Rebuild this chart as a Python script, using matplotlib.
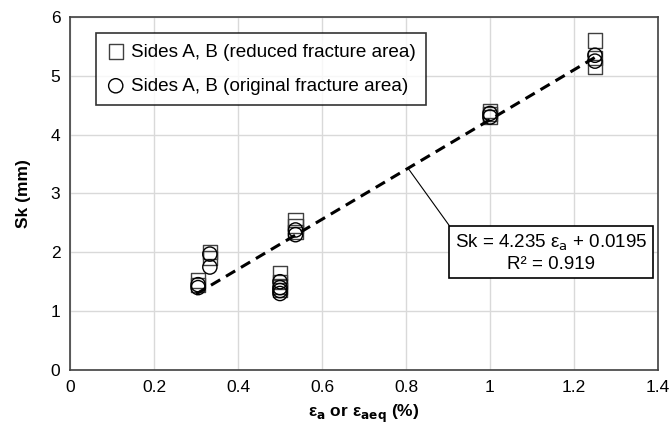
import matplotlib
matplotlib.use("Agg")
import matplotlib.pyplot as plt
import numpy as np

plt.rcParams['font.family'] = ['Liberation Sans', 'DejaVu Sans']

# Sides A, B (reduced fracture area) - squares
sq_x = [0.305, 0.305, 0.333, 0.333, 0.5, 0.5, 0.5, 0.5, 0.537, 0.537, 0.537, 1.0, 1.0, 1.0, 1.25, 1.25, 1.25]
sq_y = [1.52, 1.45, 2.0, 1.9, 1.65, 1.5, 1.42, 1.36, 2.55, 2.45, 2.35, 4.4, 4.35, 4.3, 5.6, 5.3, 5.15]
# Sides A, B (original fracture area) - circles
ci_x = [0.305, 0.305, 0.333, 0.333, 0.5, 0.5, 0.5, 0.5, 0.537, 0.537, 1.0, 1.0, 1.25, 1.25]
ci_y = [1.45, 1.4, 1.97, 1.75, 1.5, 1.4, 1.35, 1.3, 2.38, 2.3, 4.36, 4.3, 5.35, 5.25]

slope = 4.235
intercept = 0.0195
fit_x = [0.3, 1.25]

fig = plt.figure(figsize=(6.7, 4.44), dpi=100)
ax = fig.add_axes([0.1045, 0.1667, 0.8775, 0.795])

ax.set_xlim(0, 1.4)
ax.set_ylim(0, 6)
ax.set_xticks(np.arange(0, 1.41, 0.2))
ax.set_xticklabels(['0', '0.2', '0.4', '0.6', '0.8', '1', '1.2', '1.4'])
ax.set_yticks(range(0, 7))
ax.grid(True, color='#d9d9d9', linewidth=1)
ax.set_axisbelow(True)
for s in ax.spines.values():
    s.set_color('#404040')
    s.set_linewidth(1.2)
ax.tick_params(axis='both', labelsize=12.5, length=0, pad=7)

ax.scatter(sq_x, sq_y, marker='s', s=105, facecolors='none', edgecolors='#404040', linewidths=1.0,
           label='Sides A, B (reduced fracture area)', zorder=3)
ax.scatter(ci_x, ci_y, marker='o', s=105, facecolors='none', edgecolors='black', linewidths=1.0,
           label='Sides A, B (original fracture area)', zorder=4)

fx = np.array(fit_x)
ax.plot(fx, slope * fx + intercept, linestyle=(0, (3.5, 2.2)), color='black', linewidth=2.2, zorder=5)

ax.annotate('Sk = 4.235 ε$_{\\mathrm{a}}$ + 0.0195\nR² = 0.919',
            xy=(0.805, slope * 0.805 + intercept), xytext=(1.145, 1.99),
            ha='center', va='center', fontsize=13.5, multialignment='center',
            bbox=dict(boxstyle='square,pad=0.3', fc='white', ec='black', lw=1.2),
            arrowprops=dict(arrowstyle='-', color='black', lw=0.8,
                            shrinkA=0, shrinkB=0, relpos=(0.0, 1.0)),
            zorder=6)

leg = ax.legend(loc='upper left', bbox_to_anchor=(0.044, 0.955), fontsize=13.6, frameon=True,
                fancybox=False, edgecolor='black', handletextpad=0.3, borderpad=0.55,
                labelspacing=0.9, handlelength=1.0, borderaxespad=0)
leg.get_frame().set_linewidth(1.2)

ax.set_xlabel('ε$_{\\mathbf{a}}$ or ε$_{\\mathbf{aeq}}$ (%)', fontsize=12.5, fontweight='bold', labelpad=6)
ax.set_ylabel('Sk (mm)', fontsize=12.5, fontweight='bold', labelpad=14)

fig.savefig('out.png', dpi=100)
